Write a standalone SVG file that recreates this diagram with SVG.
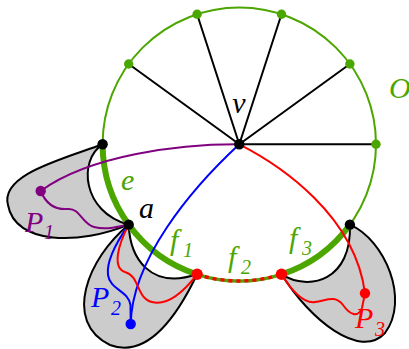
<svg xmlns="http://www.w3.org/2000/svg" width="409" height="349" viewBox="0 0 409 349">
<style>
.blob{fill:#cccccc;stroke:none}
.bl{fill:none;stroke:#000;stroke-width:2}
.spoke{stroke:#000;stroke-width:2;fill:none}
.thin{fill:none;stroke:#4ca600;stroke-width:2}
.thick{fill:none;stroke:#4ca600;stroke-width:6}
.pp{fill:none;stroke:#800080;stroke-width:2}
.pb{fill:none;stroke:#0000ff;stroke-width:2}
.pr{fill:none;stroke:#ff0000;stroke-width:2}
.lab{font-family:"Liberation Serif",serif;font-style:italic;font-size:30px}
.sub{font-size:20px}
.g{fill:#4ca600}
</style>
<g id="blob-P1">
<path class="blob" d="M102.6,144.3 C60,160 0,175 8,205 C15,245 80,245 128.7,224.65 C82,212 78,160 102.6,144.3 Z"/>
<path class="bl" d="M102.6,144.3 C60,160 0,175 8,205 C15,245 80,245 128.7,224.65"/>
<path class="bl" d="M102.6,144.3 C78,160 82,212 128.7,224.65"/>
</g>
<g id="blob-P2">
<path class="blob" d="M128.7,224.65 C88,258 62,322 110,345 C150,360 180,310 197.1,274.3 C150,290 130,258 128.7,224.65 Z"/>
<path class="bl" d="M128.7,224.65 C88,258 62,322 110,345 C150,360 180,310 197.1,274.3"/>
<path class="bl" d="M128.7,224.65 C130,258 150,290 197.1,274.3"/>
</g>
<g id="blob-P3">
<path class="blob" d="M349.9,224.65 C385,240 410,300 385,333 C360,360 310,320 281.5,274.3 C310,292 352,280 349.9,224.65 Z"/>
<path class="bl" d="M349.9,224.65 C385,240 410,300 385,333 C360,360 310,320 281.5,274.3"/>
<path class="bl" d="M281.5,274.3 C310,292 352,280 349.9,224.65"/>
</g>
<g id="circle-O">
<circle class="thin" cx="239.3" cy="144.3" r="136.7"/>
<path id="edge-e-f1" class="thick" d="M102.6,144.3 A136.7,136.7 0 0 0 197.1,274.3"/>
<path id="edge-f3" class="thick" d="M281.5,274.3 A136.7,136.7 0 0 0 349.9,224.65"/>
<path id="edge-f2" fill="none" stroke="#4ca600" stroke-width="3.4" d="M197.1,274.3 A136.7,136.7 0 0 0 281.5,274.3"/>
<path fill="none" stroke="#ff0000" stroke-width="3.4" stroke-dasharray="4 4" d="M197.1,274.3 A136.7,136.7 0 0 0 281.5,274.3"/>
</g>
<g id="connectors">
<path class="spoke" d="M239.3,144.3 L128.7,63.95 M239.3,144.3 L197.1,14.3 M239.3,144.3 L281.5,14.3 M239.3,144.3 L349.9,63.95 M239.3,144.3 L376,144.3"/>
<path class="pp" d="M239.3,144.3 C180,144 90,155 40.7,191"/>
<path class="pp" d="M40.7,191 C46,204 56,210 68,209 C80,208 82,224 94,227 C106,230 118,227 128.7,224.65"/>
<path class="pb" d="M239.3,144.3 C190,190 132,260 130.7,324"/>
<path class="pb" d="M128.7,224.65 C118,240 106,260 108,275 C110,290 128,290 130.5,305 L130.7,324"/>
<path class="pr" d="M239.3,144.3 C280,165 355,215 365,293.3"/>
<path class="pr" d="M128.7,224.65 C118,245 112,268 125,272 C140,276 136,298 152,302 C168,306 185,290 197.1,274.3"/>
<path class="pr" d="M281.5,274.3 C290,288 302,304 315,302 C328,300 335,295 343,305 C350,315 358,318 362,308 L365,293.3"/>
</g>
<g id="dots">
<circle class="g" cx="128.7" cy="63.95" r="4.7"/>
<circle class="g" cx="197.1" cy="14.3" r="4.7"/>
<circle class="g" cx="281.5" cy="14.3" r="4.7"/>
<circle class="g" cx="349.9" cy="63.95" r="4.7"/>
<circle class="g" cx="376" cy="144.3" r="4.7"/>
<circle id="node-v" cx="239.3" cy="144.3" r="5.2"/>
<circle cx="102.6" cy="144.3" r="5.2"/>
<circle id="node-a" cx="128.7" cy="224.65" r="5.2"/>
<circle cx="349.9" cy="224.65" r="5.2"/>
<circle fill="#ff0000" cx="197.1" cy="274.3" r="5.7"/>
<circle fill="#ff0000" cx="281.5" cy="274.3" r="5.7"/>
<circle id="node-P1" fill="#800080" cx="40.7" cy="191" r="5.2"/>
<circle id="node-P2" fill="#0000ff" cx="130.7" cy="324" r="5.2"/>
<circle id="node-P3" fill="#ff0000" cx="365" cy="293.3" r="5.2"/>
</g>
<g id="labels">
<text class="lab" x="239" y="113" text-anchor="middle">v</text>
<text class="lab g" x="389" y="98">O</text>
<text class="lab g" x="121" y="190">e</text>
<text class="lab" x="139" y="218">a</text>
<text class="lab g" x="170" y="250">f<tspan class="sub" x="183" y="257">1</tspan></text>
<text class="lab g" x="228" y="267">f<tspan class="sub" x="241" y="274">2</tspan></text>
<text class="lab g" x="289" y="248">f<tspan class="sub" x="302" y="255">3</tspan></text>
<text class="lab" fill="#800080" x="25" y="232">P<tspan class="sub" x="44" y="239">1</tspan></text>
<text class="lab" fill="#0000ff" x="91" y="307">P<tspan class="sub" x="111" y="315">2</tspan></text>
<text class="lab" fill="#ff0000" x="355" y="328">P<tspan class="sub" x="375" y="336">3</tspan></text>
</g>
</svg>
